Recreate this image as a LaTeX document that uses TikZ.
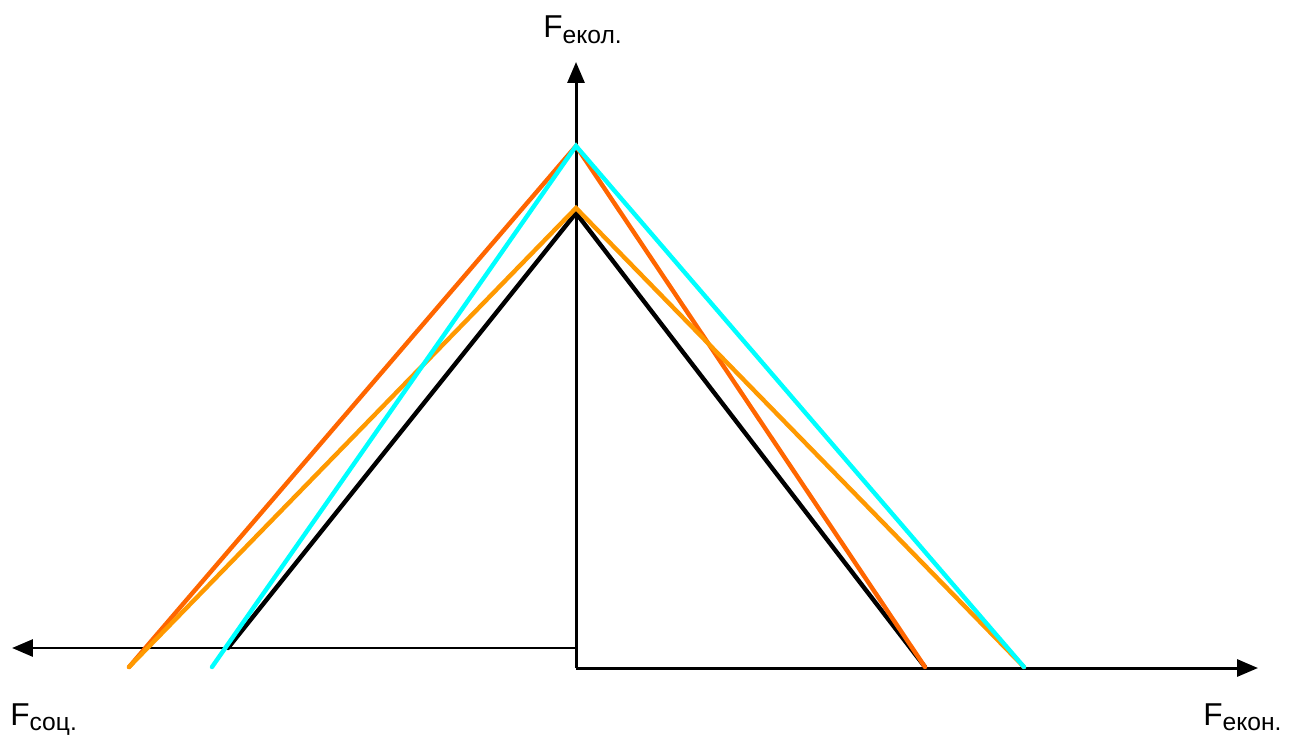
\documentclass[tikz,border=0pt]{standalone}
\usepackage{fontspec}
\setmainfont{Liberation Sans}
\usetikzlibrary{arrows.meta,positioning}
\definecolor{cred}{RGB}{255,102,0}
\definecolor{corange}{RGB}{255,153,0}
\definecolor{ccyan}{RGB}{0,255,255}
\newcommand{\Flab}[1]{F\raisebox{-0.3ex}{\fontsize{14}{14}\selectfont #1}}
\tikzset{
  axarr/.style={-{Triangle[length=4.2mm,width=3.4mm]}, black, line width=1.7pt},
  ray/.style={line width=2.5pt, line cap=round},
  alab/.style={font=\fontsize{18}{18}\selectfont, inner sep=0pt, anchor=base west},
}
\begin{document}
\begin{tikzpicture}[x=0.02cm, y=-0.02cm]
  \useasboundingbox (0,0) rectangle (1290,736);
  % axes
  \coordinate (O) at (576,668); \coordinate (OL) at (576,648);
  \coordinate (Ytip) at (576,62);
  \coordinate (Xtip) at (1258,668); \coordinate (Stip) at (12,648);
  \draw[axarr] (O) -- (Ytip);
  \draw[axarr] (O) -- (Xtip);
  \draw[axarr] (OL) -- (Stip);
  \node[alab] (fekol) at (543,38) {\Flab{екол.}};
  \node[alab] (fsoc) at (10,725) {\Flab{соц.}};
  \node[alab] (fekon) at (1203,725) {\Flab{екон.}};
  % apexes and feet
  \coordinate (Ahi) at (576,146); \coordinate (Alo) at (576,208);
  \coordinate (Ablk) at (576,213);
  \coordinate (Lfar) at (129,667); \coordinate (Lnear) at (212,667);
  \coordinate (Lblk) at (228,648);
  \coordinate (Rnear) at (925,667); \coordinate (Rfar) at (1024,667);
  \draw[ray, black] (Lblk) -- (Ablk) -- (Rnear);
  \draw[ray, cred] (Lfar) -- (Ahi) -- (Rnear);
  \draw[ray, corange] (Lfar) -- (Alo) -- (Rfar);
  \draw[ray, ccyan] (Lnear) -- (Ahi) -- (Rfar);
\end{tikzpicture}
\end{document}
